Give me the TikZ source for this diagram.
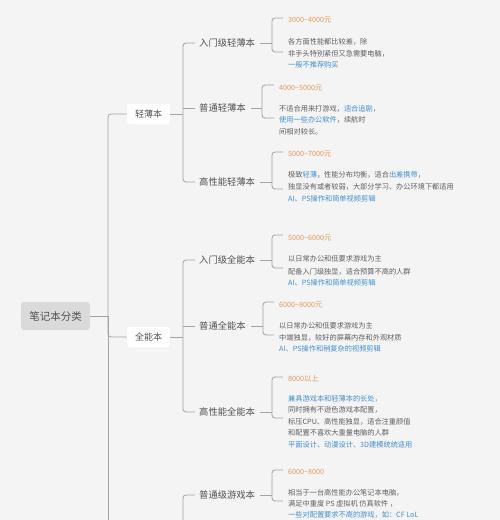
\documentclass[tikz,border=0pt]{standalone}
\usepackage{fontspec}
\setmainfont{Noto Sans CJK SC}
\definecolor{bg}{HTML}{F4F4F4}
\definecolor{linec}{HTML}{A4A4A4}
\definecolor{txt}{HTML}{5E5E5E}
\definecolor{txt2}{HTML}{505050}
\definecolor{orn}{HTML}{E39A5A}
\definecolor{blu}{HTML}{3F8FD4}
\definecolor{rootc}{HTML}{DADADA}
\newcommand\tld{{\char"7E}}
\begin{document}
\begin{tikzpicture}[x=1pt,y=-1pt,
 conn/.style={draw=linec, line width=0.85pt, rounded corners=3pt},
 det/.style={anchor=west, inner sep=0pt, font=\fontsize{7.2}{8}\selectfont, text=txt},
 price/.style={det, text=orn},
 bdet/.style={det, text=blu},
 sub/.style={anchor=west, inner sep=2pt, font=\fontsize{9.3}{11}\selectfont, text=txt2},
 cat/.style={fill=white, draw=black!6, line width=0.4pt, rounded corners=2pt, minimum width=43pt, minimum height=21pt, inner sep=0pt, font=\fontsize{9}{10}\selectfont, text=txt2},
 rootbox/.style={fill=rootc, rounded corners=3pt, minimum width=69pt, minimum height=28pt, inner sep=0pt, font=\fontsize{10.5}{12}\selectfont, text=txt2}]
\useasboundingbox (0,0) rectangle (500,520);
\fill[bg] (0,0) rectangle (500,520);
\clip (0,0) rectangle (500,520);

% main nodes
\node[rootbox] (root) at (55.5,316) {笔记本分类};
\node[cat] (c1) at (148.5,114) {轻薄本};
\node[cat] (c2) at (148.5,337) {全能本};

\node[sub] (a1) at (197,43) {入门级轻薄本};
\node[sub] (a2) at (197,108) {普通轻薄本};
\node[sub] (a3) at (197,182) {高性能轻薄本};
\node[sub] (b1) at (197,260) {入门级全能本};
\node[sub] (b2) at (197,326) {普通全能本};
\node[sub] (b3) at (197,412) {高性能全能本};
\node[sub] (g1) at (197,495) {普通级游戏本};

% trunk
\coordinate (t) at (108,316);
\coordinate (tend) at (108,540);
\draw[conn] (root.east) -- (t);
\draw[conn] (c1.west) -| (t) |- (c2.west);
\draw[conn] (t) -- (tend);

% sub trunks
\coordinate (s1) at (183,114);
\draw[conn] (c1.east) -- (s1);
\draw[conn,shorten <=2pt,shorten >=2pt] (a1.west) -| (s1) |- (a3.west);
\draw[conn,shorten >=2pt] (s1 |- a2.west) -- (a2.west);

\coordinate (s2) at (183,337);
\draw[conn] (c2.east) -- (s2);
\draw[conn,shorten <=2pt,shorten >=2pt] (b1.west) -| (s2) |- (b3.west);
\draw[conn,shorten >=2pt] (s2 |- b2.west) -- (b2.west);

\coordinate (s3) at (183,540);
\draw[conn,shorten <=2pt] (g1.west) -| (s3);

% brackets
\coordinate (a1t) at (283,18); \coordinate (a1m) at (272,43); \coordinate (a1b) at (283,52);
\draw[conn] ([xshift=3pt]a1.east) -- (a1m);
\draw[conn] (a1t) -| (a1m) |- (a1b);

\coordinate (a2t) at (274,85); \coordinate (a2m) at (262,108); \coordinate (a2b) at (274,118);
\draw[conn] ([xshift=3pt]a2.east) -- (a2m);
\draw[conn] (a2t) -| (a2m) |- (a2b);

\coordinate (a3t) at (283,152); \coordinate (a3m) at (272,182); \coordinate (a3b) at (283,189);
\draw[conn] ([xshift=3pt]a3.east) -- (a3m);
\draw[conn] (a3t) -| (a3m) |- (a3b);

\coordinate (b1t) at (283,235); \coordinate (b1m) at (272,260); \coordinate (b1b) at (283,268);
\draw[conn] ([xshift=3pt]b1.east) -- (b1m);
\draw[conn] (b1t) -| (b1m) |- (b1b);

\coordinate (b2t) at (274,302); \coordinate (b2m) at (263,326); \coordinate (b2b) at (274,335);
\draw[conn] ([xshift=3pt]b2.east) -- (b2m);
\draw[conn] (b2t) -| (b2m) |- (b2b);

\coordinate (b3t) at (283,377); \coordinate (b3m) at (272,412); \coordinate (b3b) at (283,418);
\draw[conn] ([xshift=3pt]b3.east) -- (b3m);
\draw[conn] (b3t) -| (b3m) |- (b3b);

\coordinate (g1t) at (283,470); \coordinate (g1m) at (272,495); \coordinate (g1b) at (283,501);
\draw[conn] ([xshift=3pt]g1.east) -- (g1m);
\draw[conn] (g1t) -| (g1m) |- (g1b);

% details
\node[price] (a1p) at (288,20) {3000\tld4000元};
\node[det] (a1x1) at (288,42) {各方面性能都比较差，除};
\node[det] (a1x2) at (288,54) {非手头特别紧但又急需要电脑，};
\node[bdet] (a1x3) at (288,65) {一般不推荐购买};

\node[price] (a2p) at (279,88) {4000\tld5000元};
\node[det] (a2x1) at (279,109) {不适合用来打游戏，\textcolor{blu}{适合追剧}，};
\node[det] (a2x2) at (279,120) {\textcolor{blu}{使用一些办公软件}，续航时};
\node[det] (a2x3) at (279,132) {间相对较长。};

\node[price] (a3p) at (288,154) {5000\tld7000元};
\node[det] (a3x1) at (288,175) {极致\textcolor{blu}{轻薄}，性能分布均衡，适合\textcolor{blu}{出差携带}，};
\node[det] (a3x2) at (288,187) {独显没有或者较弱，大部分学习、办公环境下都适用};
\node[bdet] (a3x3) at (288,199) {AI、PS操作和简单视频剪辑};

\node[price] (b1p) at (288,238) {5000\tld6000元};
\node[det] (b1x1) at (288,259) {以日常办公和低要求游戏为主};
\node[det] (b1x2) at (288,272) {配备入门级独显，适合预算不高的人群};
\node[bdet] (b1x3) at (288,283) {AI、PS操作和简单视频剪辑};

\node[price] (b2p) at (279,305) {6000\tld8000元};
\node[det] (b2x1) at (279,326) {以日常办公和低要求游戏为主};
\node[det] (b2x2) at (279,338) {中端独显，较好的屏幕内存和外观材质};
\node[bdet] (b2x3) at (279,349) {AI、PS操作和稍复杂的视频剪辑};

\node[price] (b3p) at (288,379) {8000以上};
\node[bdet] (b3x1) at (288,399) {兼具游戏本和轻薄本的长处，};
\node[det] (b3x2) at (288,410) {同时拥有不逊色游戏本配置，};
\node[det] (b3x3) at (288,422) {标压CPU、高性能独显，适合注重颜值};
\node[det] (b3x4) at (288,433) {和配置不喜欢大重量电脑的人群};
\node[bdet] (b3x5) at (288,445) {平面设计、动漫设计、3D建模统统适用};

\node[price] (g1p) at (288,472) {6000\tld8000};
\node[det] (g1x1) at (288,493) {相当于一台高性能办公笔记本电脑，};
\node[det] (g1x2) at (288,504) {满足中重度 PS 虚拟机 仿真软件 ，};
\node[bdet] (g1x3) at (288,514.5) {一些对配置要求不高的游戏，如：CF LoL};
\end{tikzpicture}
\end{document}
